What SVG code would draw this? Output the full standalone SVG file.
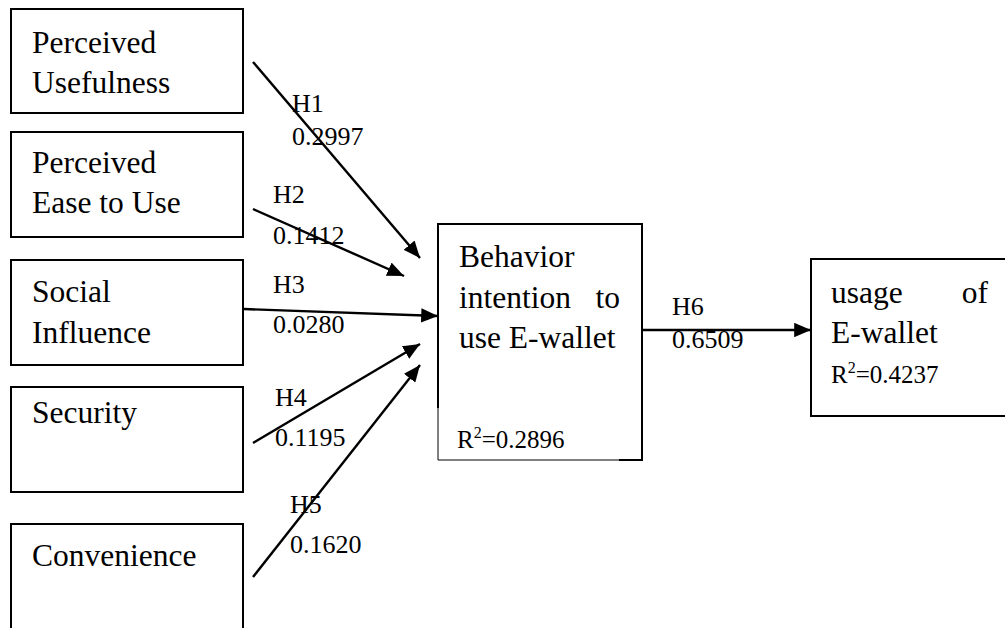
<svg xmlns="http://www.w3.org/2000/svg" width="1005" height="628" viewBox="0 0 1005 628">
<defs>
<style>
.box{fill:#fff;stroke:#000;stroke-width:2}
.t{font-family:"Liberation Serif","Times New Roman",serif;font-size:31.5px;fill:#000}
.l{font-family:"Liberation Serif","Times New Roman",serif;font-size:26px;fill:#000}
.r{font-family:"Liberation Serif","Times New Roman",serif;font-size:25px;fill:#000}
.c{stroke:#000;stroke-width:2.4;fill:none;marker-end:url(#ah)}
</style>
<marker id="ah" markerWidth="7" markerHeight="6" refX="7" refY="3" orient="auto" markerUnits="strokeWidth">
<path d="M0,0 L7,3 L0,6 Z" fill="#000"/>
</marker>
</defs>
<rect width="1005" height="628" fill="#fff"/>
<g id="n1">
<rect class="box" x="11" y="9" width="232" height="104"/>
<text class="t" x="32" y="53">Perceived</text>
<text class="t" x="32" y="93">Usefulness</text>
</g>
<g id="n2">
<rect class="box" x="11" y="132" width="232" height="105"/>
<text class="t" x="32" y="173">Perceived</text>
<text class="t" x="32" y="213">Ease to Use</text>
</g>
<g id="n3">
<rect class="box" x="11" y="260" width="232" height="105"/>
<text class="t" x="32" y="302">Social</text>
<text class="t" x="32" y="343">Influence</text>
</g>
<g id="n4">
<rect class="box" x="11" y="387" width="232" height="105"/>
<text class="t" x="32" y="423">Security</text>
</g>
<g id="n5">
<path d="M11,640 L11,524 L243,524 L243,640" fill="#fff" stroke="#000" stroke-width="2"/>
<text class="t" x="32" y="566">Convenience</text>
</g>
<g id="n6">
<rect x="438" y="224" width="204" height="236" fill="#fff"/>
<path d="M438,408 L438,224 L642,224 L642,460 L619,460" fill="none" stroke="#000" stroke-width="2"/>
<path d="M438,408 L438,460 L619,460" fill="none" stroke="#000" stroke-width="1"/>
<text class="t" x="459" y="267">Behavior</text>
<text class="t" x="459" y="308">intention</text>
<text class="t" x="620" y="308" text-anchor="end">to</text>
<text class="t" x="459" y="348">use E-wallet</text>
<text class="r" x="457" y="448">R<tspan font-size="16" dy="-10">2</tspan><tspan dy="10">=0.2896</tspan></text>
</g>
<g id="n7">
<path d="M1010,259 L811,259 L811,416 L1010,416" fill="#fff" stroke="#000" stroke-width="2"/>
<text class="t" x="831" y="303">usage</text>
<text class="t" x="988" y="303" text-anchor="end">of</text>
<text class="t" x="831" y="343">E-wallet</text>
<text class="r" x="831" y="383">R<tspan font-size="16" dy="-10">2</tspan><tspan dy="10">=0.4237</tspan></text>
</g>
<g id="connectors">
<line class="c" x1="253" y1="62" x2="420" y2="258"/>
<line class="c" x1="253" y1="209" x2="404" y2="276"/>
<line class="c" x1="244" y1="309" x2="438" y2="316"/>
<line class="c" x1="253" y1="443" x2="420" y2="344"/>
<line class="c" x1="253" y1="577" x2="420" y2="365"/>
<line class="c" x1="642" y1="330" x2="811" y2="330"/>
</g>
<g id="labels">
<text class="l" x="292" y="112">H1</text>
<text class="l" x="292" y="145">0.2997</text>
<text class="l" x="273" y="203">H2</text>
<text class="l" x="273" y="244">0.1412</text>
<text class="l" x="273" y="293">H3</text>
<text class="l" x="273" y="333">0.0280</text>
<text class="l" x="275" y="406">H4</text>
<text class="l" x="275" y="446">0.1195</text>
<text class="l" x="290" y="513">H5</text>
<text class="l" x="290" y="553">0.1620</text>
<text class="l" x="672" y="315" font-size="21">H6</text>
<text class="l" x="672" y="348" font-size="27">0.6509</text>
</g>
</svg>
